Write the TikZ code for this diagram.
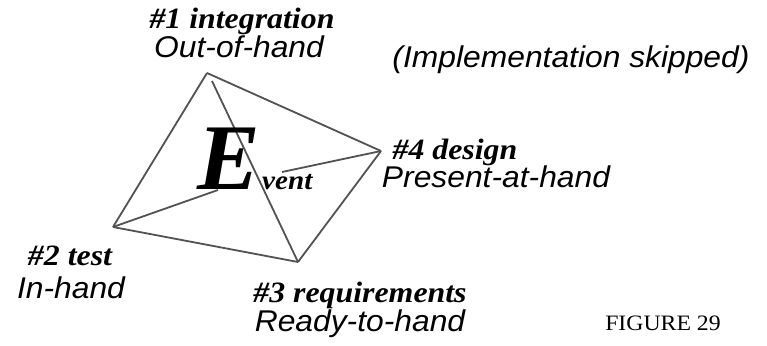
\documentclass[tikz,border=0pt]{standalone}
\usepackage{fontspec}
\setmainfont{Liberation Serif}
\newfontfamily\efont{Liberation Serif}
\newfontfamily\phasefont{Liberation Serif}[FakeStretch=1.08]
\newfontfamily\arialfont{Liberation Sans}[FakeStretch=1.06]
\begin{document}
\begin{tikzpicture}[x=1pt,y=1pt,
  edge/.style={draw=black!68, line width=1.8pt},
  phase/.style={anchor=base, inner sep=0pt, font=\fontsize{29.5}{31}\phasefont\bfseries\itshape},
  mode/.style={anchor=base, inner sep=0pt, font=\fontsize{30}{32}\arialfont\itshape}]
\useasboundingbox (0,0) rectangle (767,345);
% vertices (pixel coords, y flipped)
\coordinate (T) at (207,272);
\coordinate (T2) at (212,264);
\coordinate (L) at (113,118);
\coordinate (B) at (298,83);
\coordinate (R) at (381,194);
\coordinate (C) at (282,173);
\coordinate (CL) at (218,155);
\draw[edge] (T) -- (L);
\draw[edge] (T) -- (R);
\draw[edge] (L) -- (B);
\draw[edge] (B) -- (R);
\draw[edge] (T2) -- (B);
\draw[edge] (L) -- (CL);
\draw[edge] (R) -- (C);
% E
\node[anchor=base west, inner sep=0pt, font=\fontsize{94}{96}\efont\bfseries\itshape] (E) at (197,155) {E};
\node[anchor=base west, inner sep=0pt, font=\fontsize{27}{29}\phasefont\bfseries\itshape] (vent) at (262,155) {vent};
% labels
\node[phase] (p1) at (242,316) {\#1 integration};
\node[mode] (m1) at (239,287) {Out-of-hand};
\node[mode] (skip) at (571,277) {(Implementation skipped)};
\node[phase] (p4) at (455,185) {\#4 design};
\node[mode] (m4) at (496,157) {Present-at-hand};
\node[phase] (p2) at (70,79) {\#2 test};
\node[mode] (m2) at (71,47) {In-hand};
\node[phase] (p3) at (360,42) {\#3 requirements};
\node[mode] (m3) at (360,14) {Ready-to-hand};
\node[anchor=base, inner sep=0pt, font=\fontsize{22}{24}\phasefont] (fig) at (663,15) {FIGURE 29};
\end{tikzpicture}
\end{document}
